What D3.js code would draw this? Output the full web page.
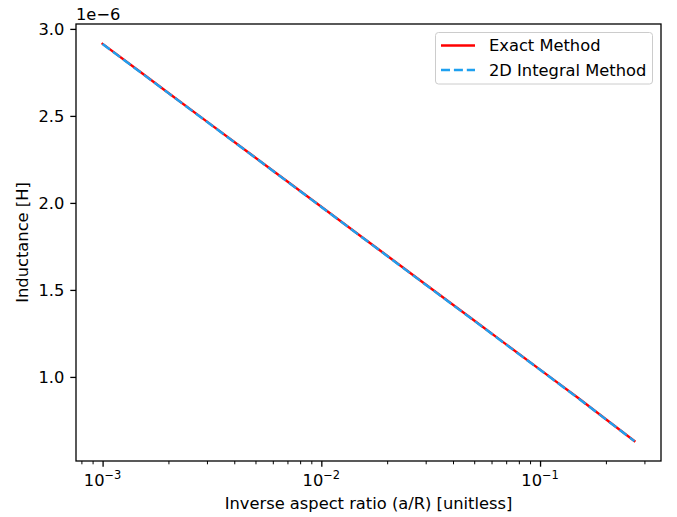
<!DOCTYPE html>
<html>
<head>
<meta charset="utf-8">
<script src="https://cdn.jsdelivr.net/npm/d3@7"></script>
<style>
  body { margin: 0; background: #fff; }
  svg { display: block; font-family: "DejaVu Sans", sans-serif; }
</style>
</head>
<body>
<svg id="chart" width="677" height="517"></svg>
<script>
// ---- data ----
const ratios = [0.001, 0.0015, 0.002, 0.003, 0.005, 0.007, 0.01, 0.015, 0.02, 0.03, 0.05, 0.07, 0.1, 0.15, 0.2, 0.27];
const exactL = [2.914, 2.749, 2.632, 2.467, 2.260, 2.123, 1.978, 1.813, 1.696, 1.531, 1.324, 1.187, 1.042, 0.877, 0.757, 0.632];
const integralL = [2.913, 2.748, 2.631, 2.466, 2.259, 2.122, 1.977, 1.812, 1.695, 1.530, 1.323, 1.186, 1.041, 0.876, 0.756, 0.631];
const yTicks = [1.0, 1.5, 2.0, 2.5, 3.0];
const xTicks = [-3, -2, -1];
const seriesNames = ["Exact Method", "2D Integral Method"];

// ---- layout ----
const svg = d3.select("#chart");
const L = 76, R = 661, T = 24, B = 461;
const fs = 16.3;
const lw = 2.4;
const dash = "9,3.9";

const lx = ratios.map(Math.log10);
const xmin = d3.min(lx), xmax = d3.max(lx), xpad = (xmax - xmin) * 0.05;
const allY = exactL.concat(integralL);
const ymin = d3.min(allY), ymax = d3.max(allY), ypad = (ymax - ymin) * 0.05;

const x = d3.scaleLog().domain([Math.pow(10, xmin - xpad), Math.pow(10, xmax + xpad)]).range([L, R]);
const y = d3.scaleLinear().domain([ymin - ypad, ymax + ypad]).range([B, T]);

// ---- lines ----
const line = d3.line().x(d => x(d[0])).y(d => y(d[1]));
const g = svg.append("g");
g.append("path").datum(ratios.map((r, i) => [r, exactL[i]]))
  .attr("d", line).attr("fill", "none").attr("stroke", "#ff0000")
  .attr("stroke-width", lw).attr("stroke-linecap", "square").attr("stroke-linejoin", "round");
g.append("path").datum(ratios.map((r, i) => [r, integralL[i]]))
  .attr("d", line).attr("fill", "none").attr("stroke", "#1ea0f0")
  .attr("stroke-width", lw).attr("stroke-dasharray", dash).attr("stroke-linejoin", "round");

// ---- axes ----
const xAxis = d3.axisBottom(x).tickValues(xTicks.map(e => Math.pow(10, e))).tickFormat("").tickSize(5.7);
const xa = svg.append("g").attr("transform", `translate(0,${B})`).call(xAxis);
xa.select(".domain").remove();
xa.selectAll(".tick line").attr("stroke", "#000").attr("stroke-width", 1.3);

// minor ticks
const minor = [];
for (let e = -4; e <= 0; e++) for (let m = 2; m <= 9; m++) {
  const v = m * Math.pow(10, e);
  if (v >= x.domain()[0] && v <= x.domain()[1]) minor.push(v);
}
const xm = svg.append("g").attr("transform", `translate(0,${B})`)
  .call(d3.axisBottom(x).tickValues(minor).tickFormat("").tickSize(3.3));
xm.select(".domain").remove();
xm.selectAll(".tick line").attr("stroke", "#000").attr("stroke-width", 1);

// x tick labels with superscripts
xTicks.forEach(e => {
  const t = svg.append("text").attr("x", x(Math.pow(10, e))).attr("y", 486)
    .attr("text-anchor", "middle").attr("font-size", fs).attr("fill", "#000");
  t.append("tspan").text("10");
  t.append("tspan").attr("font-size", fs * 0.7).attr("dy", -7).text("\u2212" + Math.abs(e));
});

const yAxis = d3.axisLeft(y).tickValues(yTicks).tickFormat(d3.format(".1f")).tickSize(5.7).tickPadding(6);
const ya = svg.append("g").attr("transform", `translate(${L},0)`).call(yAxis);
ya.select(".domain").remove();
ya.selectAll(".tick line").attr("stroke", "#000").attr("stroke-width", 1.3);
ya.selectAll(".tick text").attr("font-size", fs).attr("font-family", "DejaVu Sans").attr("fill", "#000");

// frame
svg.append("rect").attr("x", L).attr("y", T).attr("width", R - L).attr("height", B - T)
  .attr("fill", "none").attr("stroke", "#000").attr("stroke-width", 1.3);

// offset text
svg.append("text").attr("x", L).attr("y", 19.5).attr("font-size", fs).text("1e\u22126");

// axis labels
svg.append("text").attr("x", (L + R) / 2).attr("y", 509).attr("text-anchor", "middle")
  .attr("font-size", fs).text("Inverse aspect ratio (a/R) [unitless]");
svg.append("text").attr("transform", `translate(28,${(T + B) / 2}) rotate(-90)`)
  .attr("text-anchor", "middle").attr("font-size", fs).text("Inductance [H]");

// ---- legend ----
const lg = svg.append("g");
lg.append("rect").attr("x", 435.5).attr("y", 32.5).attr("width", 217).attr("height", 51.5)
  .attr("rx", 3).attr("fill", "#fff").attr("fill-opacity", 0.8).attr("stroke", "#cccccc").attr("stroke-width", 1);
const legendStyles = [{ c: "#ff0000", dash: null }, { c: "#1ea0f0", dash: dash }];
seriesNames.forEach((name, i) => {
  const yy = 45.5 + i * 24.5;
  const l = lg.append("line").attr("x1", 441).attr("x2", 475).attr("y1", yy).attr("y2", yy)
    .attr("stroke", legendStyles[i].c).attr("stroke-width", lw);
  if (legendStyles[i].dash) l.attr("stroke-dasharray", legendStyles[i].dash);
  lg.append("text").attr("x", 489).attr("y", yy + 5.8).attr("font-size", fs).text(name);
});
</script>
</body>
</html>
